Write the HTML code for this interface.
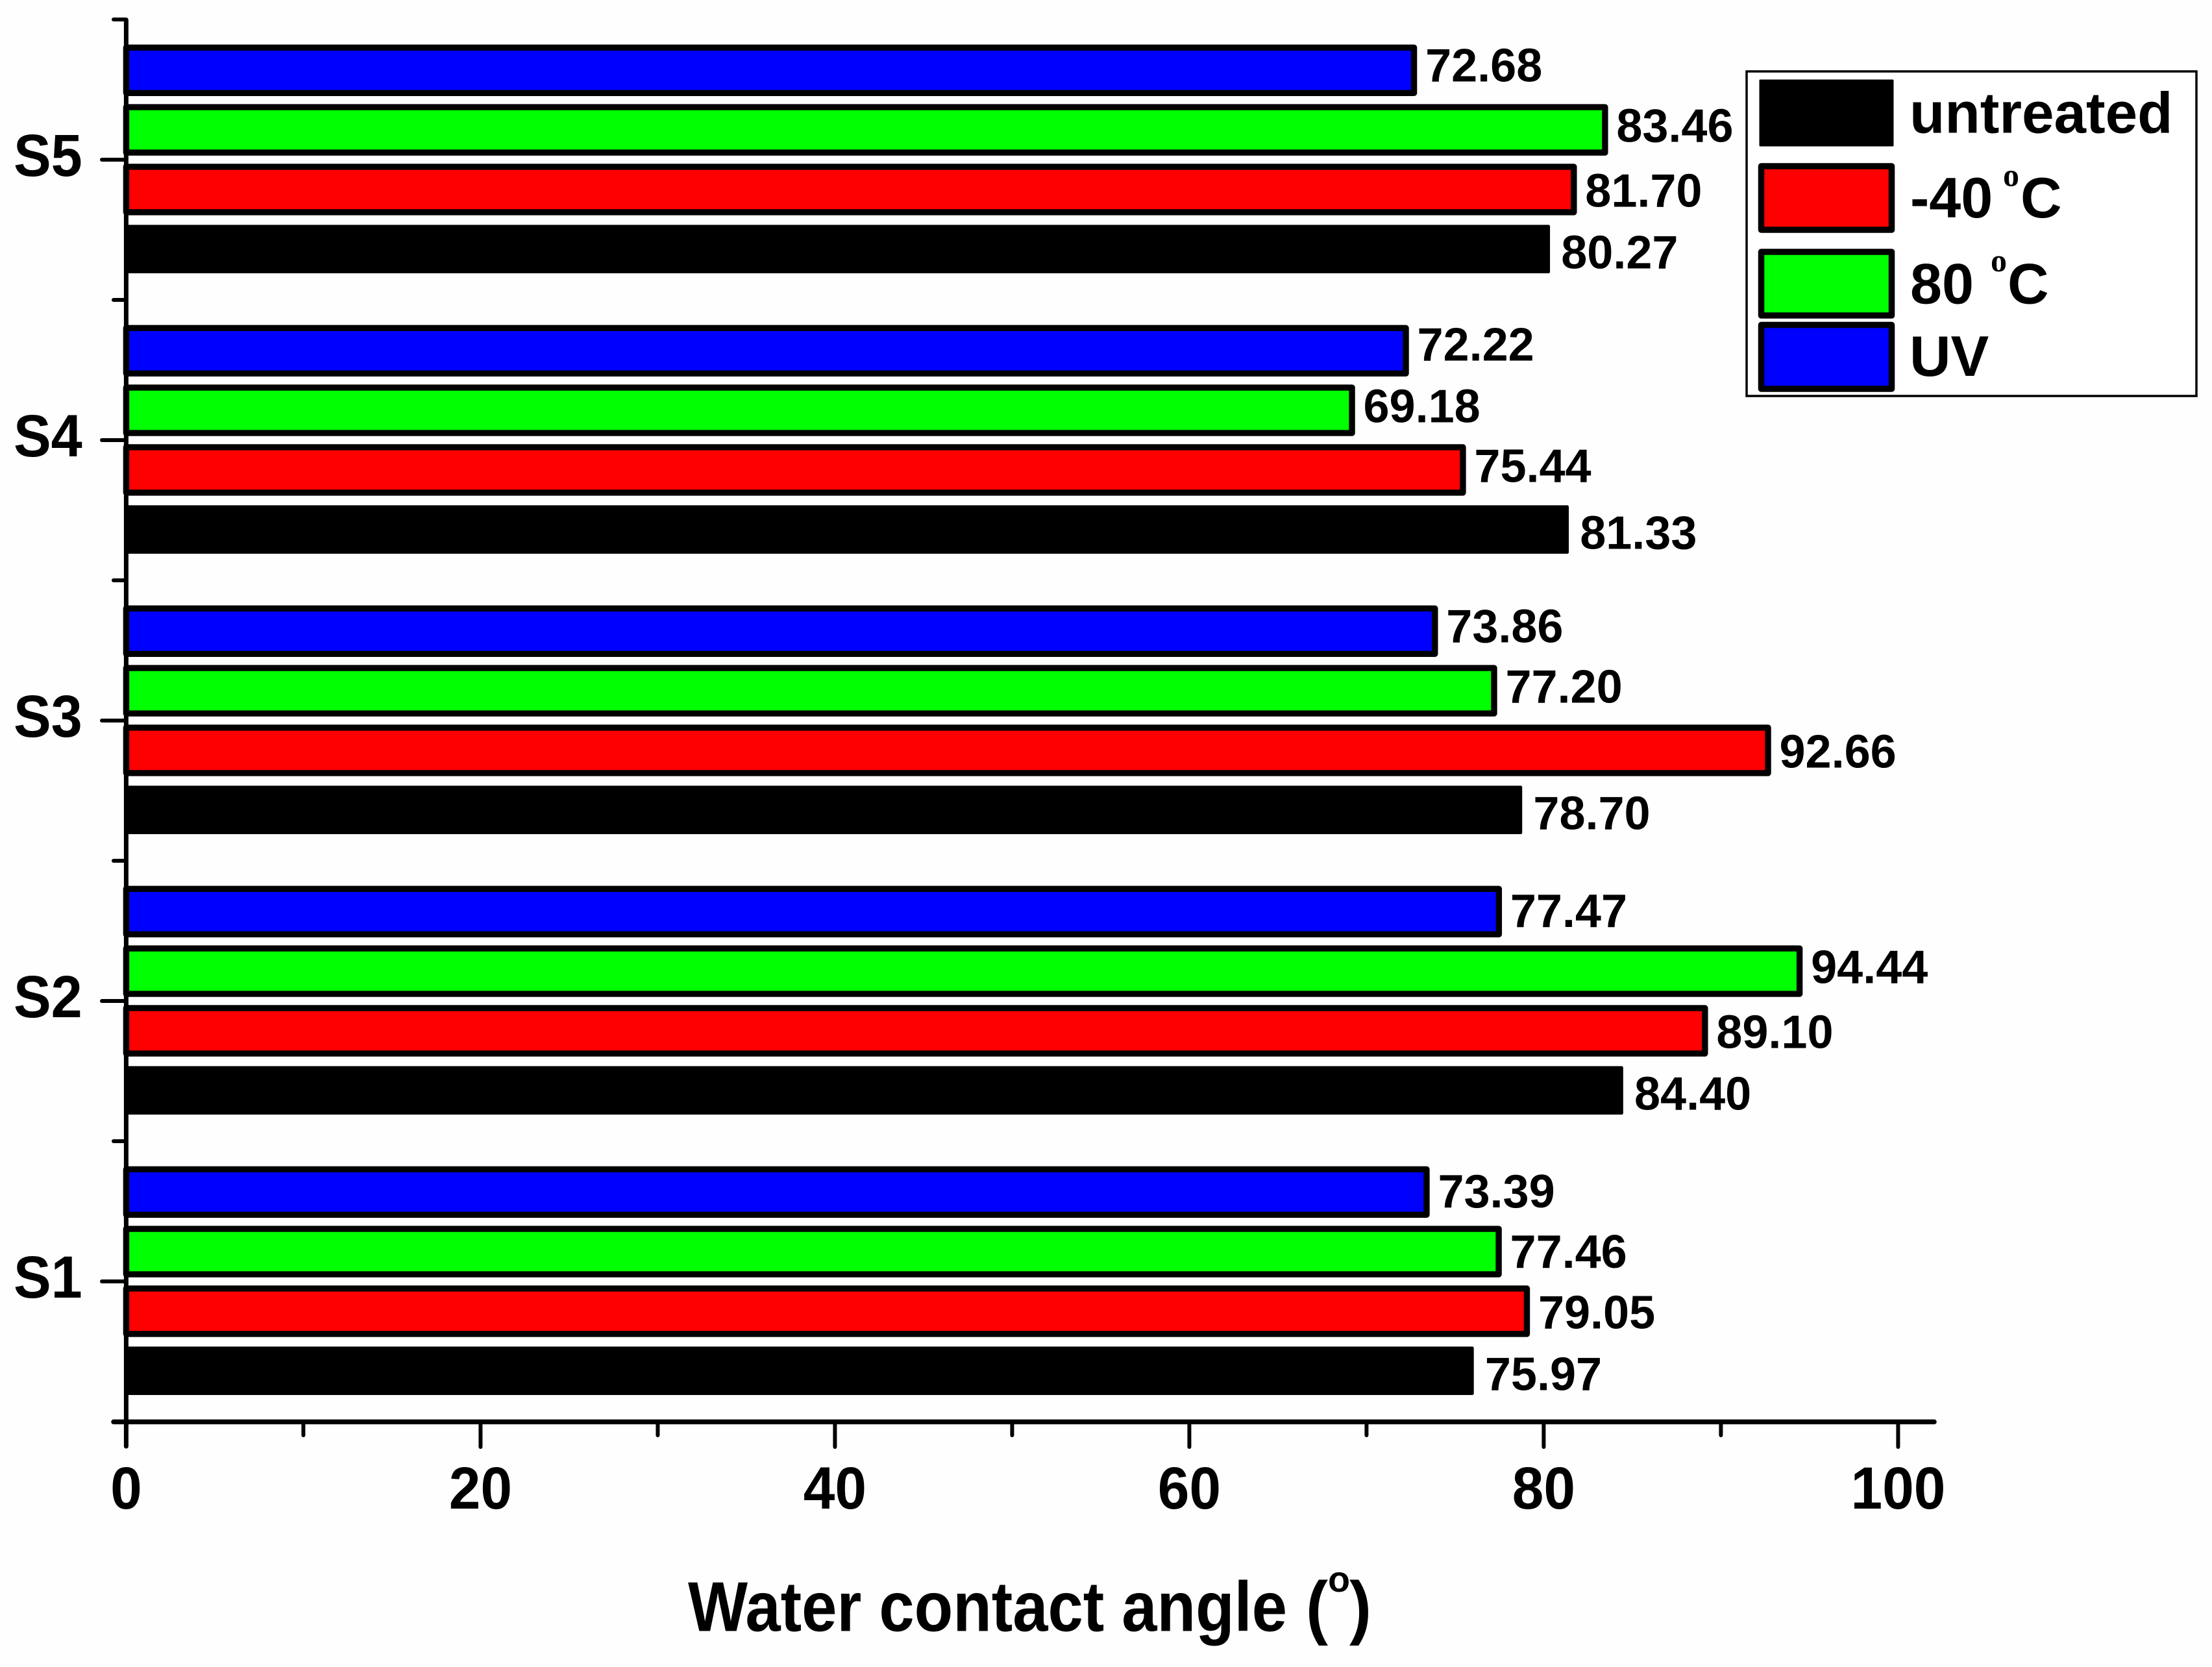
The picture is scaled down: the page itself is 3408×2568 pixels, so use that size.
<!DOCTYPE html>
<html lang="en">
<head>
<meta charset="utf-8">
<title>Water contact angle</title>
<style>
html,body{margin:0;padding:0;background:#fefefe;}
svg{display:block;}
text{font-family:"Liberation Sans",Arial,sans-serif;font-weight:bold;fill:#000;}
</style>
</head>
<body>
<svg id="chart" xmlns="http://www.w3.org/2000/svg" width="3408" height="2568" viewBox="0 0 3408 2568">
  <rect x="0" y="0" width="3408" height="2568" fill="#fefefe"/>
  <g id="bars"></g>
  <g id="value-labels"></g>
  <g id="axes"></g>

  <g>
    <text x="1060" y="2512.7" font-size="109" textLength="923" lengthAdjust="spacingAndGlyphs">Water contact angle</text>
    <text x="2012" y="2512.7" font-size="109" textLength="34" lengthAdjust="spacingAndGlyphs">(</text>
    <text x="2046" y="2452" font-size="56" textLength="34" lengthAdjust="spacingAndGlyphs">o</text>
    <text x="2079" y="2512.7" font-size="109" textLength="34" lengthAdjust="spacingAndGlyphs">)</text>
  </g>

  <g>
    <rect x="2691" y="110" width="693" height="500" fill="#fff" stroke="#000" stroke-width="3.5"/>
    <rect x="2712" y="124" width="204" height="100" fill="#000" stroke="#000" stroke-width="3" stroke-linejoin="round"/>
    <text x="2942" y="204.7" font-size="89">untreated</text>
    <rect x="2713.5" y="256" width="201" height="98" fill="#f00" stroke="#000" stroke-width="9.5" stroke-linejoin="round"/>
    <g>
      <text x="2943" y="334.8" font-size="88">-40</text>
      <text x="3086" y="286.6" font-size="50" style="font-family:'Liberation Serif',serif;font-weight:bold">o</text>
      <text x="3113" y="334.8" font-size="88">C</text>
    </g>
    <rect x="2713.5" y="388" width="201" height="98" fill="#0f0" stroke="#000" stroke-width="9.5" stroke-linejoin="round"/>
    <g>
      <text x="2943" y="467.6" font-size="88">80</text>
      <text x="3067" y="418" font-size="50" style="font-family:'Liberation Serif',serif;font-weight:bold">o</text>
      <text x="3093" y="467.6" font-size="88">C</text>
    </g>
    <rect x="2713.5" y="500.5" width="201" height="98.5" fill="#00f" stroke="#000" stroke-width="9.5" stroke-linejoin="round"/>
    <text x="2942" y="579" font-size="88">UV</text>
  </g>
</svg>
<script>
const categories = ['S1', 'S2', 'S3', 'S4', 'S5'];
const untreated = [75.97, 84.40, 78.70, 81.33, 80.27];
const minus40 = [79.05, 89.10, 92.66, 75.44, 81.70];
const plus80 = [77.46, 94.44, 77.20, 69.18, 83.46];
const uv = [73.39, 77.47, 73.86, 72.22, 72.68];
const xMajorTicks = [0, 20, 40, 60, 80, 100];
const xMinorTicks = [10, 30, 50, 70, 90];

const NS = 'http://www.w3.org/2000/svg';
const xScale = v => 194.4 + v * 27.3;
const yScale = i => 1974 - i * 432;
const slot = s => (1.5 - s) * 91.8;
const seriesStyles = [
  {key: 'untreated', vals: untreated, fill: '#000', sw: 4.6, dy: 30, dx: 19.5},
  {key: 'minus-40', vals: minus40, fill: '#f00', sw: 9.4, dy: 26.5, dx: 17.5},
  {key: 'plus-80', vals: plus80, fill: '#0f0', sw: 9.4, dy: 18.5, dx: 17.5},
  {key: 'uv', vals: uv, fill: '#00f', sw: 9.4, dy: 17, dx: 17.5}
];
const labelShift = {
  's1-plus-80': 6.5,
  's1-uv': 6.5,
  's2-uv': 6.5,
  's4-minus-40': -8,
  's4-uv': -2
};
const barsG = document.getElementById('bars');
const labelsG = document.getElementById('value-labels');
const axesG = document.getElementById('axes');

function mk(tag, attrs, parent) {
  const el = document.createElementNS(NS, tag);
  for (const k in attrs) el.setAttribute(k, attrs[k]);
  parent.appendChild(el);
  return el;
}

seriesStyles.forEach((s, si) => {
  s.vals.forEach((v, ci) => {
    const cy = yScale(ci) + slot(si);
    const id = categories[ci].toLowerCase() + '-' + s.key;
    const bar = mk('rect', {x: xScale(0), y: cy - 35, width: xScale(v) - xScale(0), height: 70, fill: s.fill, stroke: '#000', 'stroke-width': s.sw, 'stroke-linejoin': 'round'}, barsG);
    
    
    const t = mk('text', {x: xScale(v) + s.dx, y: cy + s.dy + (labelShift[id] || 0), 'font-size': 72}, labelsG);
    t.textContent = v.toFixed(2);
    
    
  });
});

function line(x1, y1, x2, y2, w, name) {
  const l = mk('line', {x1: x1, y1: y1, x2: x2, y2: y2, stroke: '#000', 'stroke-width': w, 'stroke-linecap': 'round'}, axesG);
  
  
}

line(xScale(0), 31, xScale(0), 2228, 7, 'y-axis-line');
line(175, 2190.4, 2980, 2190.4, 7.5, 'x-axis-line');

categories.forEach((c, i) => {
  line(157, yScale(i), xScale(0), yScale(i), 6, 'y-tick-' + c.toLowerCase());
  const t = mk('text', {transform: 'translate(21 ' + (yScale(i) + 25) + ') scale(0.94 1)', x: 0, y: 0, 'font-size': 92}, axesG);
  t.textContent = c;
  
  
});
for (let i = -0.5; i <= 4.5; i += 1) {
  line(175, yScale(i), xScale(0), yScale(i), 6, 'y-minor-tick');
}
xMajorTicks.forEach(v => {
  if (v !== 0) line(xScale(v), 2190, xScale(v), 2229, 6, 'x-tick-' + v);
  const t = mk('text', {transform: 'translate(' + xScale(v) + ' 2324) scale(0.95 1)', x: 0, y: 0, 'font-size': 92, 'text-anchor': 'middle'}, axesG);
  t.textContent = String(v);
  
  
});
xMinorTicks.forEach(v => {
  line(xScale(v), 2190, xScale(v), 2211, 6, 'x-minor-tick-' + v);
});
</script>
</body>
</html>
